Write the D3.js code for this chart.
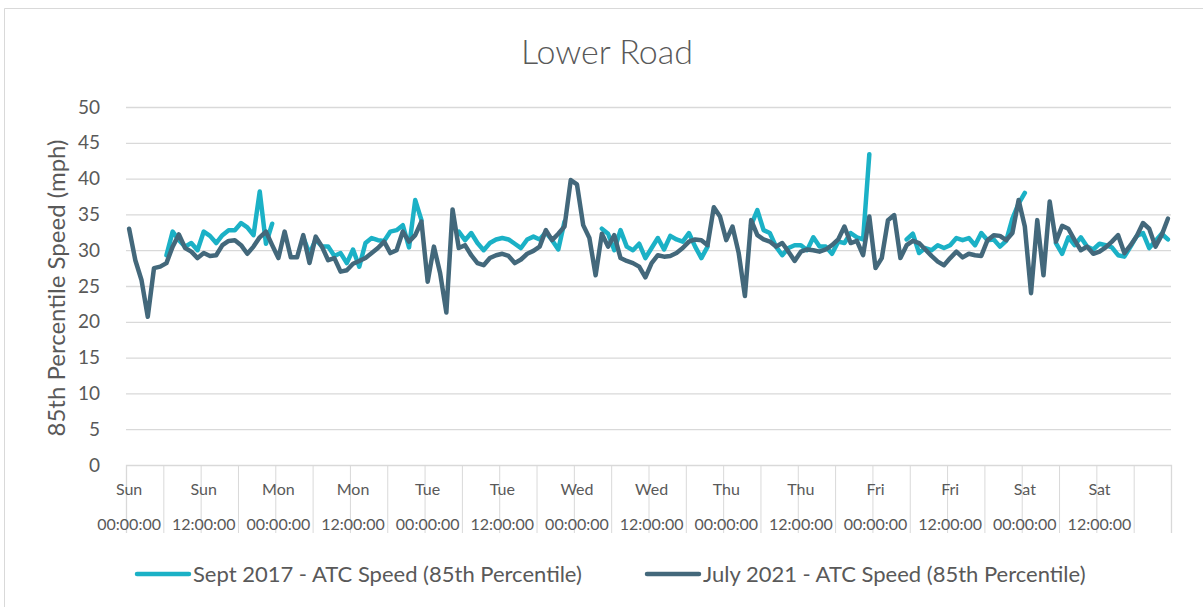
<!DOCTYPE html>
<html>
<head>
<meta charset="utf-8">
<script src="https://cdn.jsdelivr.net/npm/d3@7"></script>
<style>
  body { margin: 0; background: #fff; }
  svg text { font-family: Lato, "Open Sans", sans-serif; fill: #595959; }
</style>
</head>
<body>
<div id="chart"></div>
<script>
// hourly 85th percentile speeds, Sun 00:00 -> Sat 23:00
const july2021 = [
  33.0, 28.6, 25.8, 20.7, 27.5, 27.7, 28.2, 30.5, 32.2, 30.3, 29.8, 28.9,
  29.6, 29.2, 29.3, 30.7, 31.3, 31.4, 30.7, 29.5, 30.5, 31.8, 32.6, 30.7,
  28.9, 32.6, 29.0, 29.0, 32.1, 28.2, 31.9, 30.5, 28.6, 28.9, 27.0, 27.2,
  28.1, 28.5, 28.9, 29.6, 30.3, 31.2, 29.6, 30.0, 32.6, 31.2, 32.1, 34.0,
  25.6, 30.5, 26.8, 21.3, 35.7, 30.3, 30.7, 29.3, 28.2, 27.9, 28.9, 29.3,
  29.5, 29.2, 28.2, 28.7, 29.5, 29.9, 30.5, 32.8, 31.4, 32.3, 33.3, 39.8,
  39.2, 33.5, 31.7, 26.5, 32.3, 30.5, 32.1, 28.9, 28.5, 28.2, 27.7, 26.2,
  28.2, 29.3, 29.1, 29.2, 29.6, 30.3, 31.2, 31.5, 31.4, 30.7, 36.0, 34.7,
  31.4, 33.3, 29.6, 23.6, 34.2, 32.1, 31.5, 31.2, 30.5, 31.0, 29.8, 28.5,
  29.8, 30.1, 30.0, 29.8, 30.1, 30.7, 31.5, 33.3, 31.0, 31.3, 29.3, 34.7,
  27.5, 28.9, 34.2, 34.9, 28.9, 30.7, 31.3, 31.0, 30.1, 29.2, 28.4, 27.9,
  28.9, 29.8, 29.0, 29.5, 29.3, 29.2, 31.4, 32.1, 32.0, 31.4, 32.4, 37.0,
  33.3, 24.0, 34.2, 26.5, 36.8, 31.2, 33.4, 33.0, 31.4, 30.0, 30.5, 29.5,
  29.8, 30.4, 31.2, 32.1, 29.6, 30.7, 32.0, 33.8, 33.0, 30.5, 32.1, 34.4
];

const sept2017 = [
  null, null, null, null, null, null, 29.3, 32.6, 31.4, 30.5, 31.0, 30.0,
  32.6, 32.0, 31.0, 32.1, 32.8, 32.8, 33.8, 33.2, 32.1, 38.2, 30.9, 33.7,
  null, null, null, null, 31.8, 29.5, 31.5, 30.5, 30.5, 29.2, 29.6, 28.2,
  30.1, 27.7, 31.0, 31.7, 31.4, 31.3, 32.6, 32.8, 33.5, 30.4, 37.0, 34.2,
  null, null, null, null, null, 32.6, 31.4, 32.4, 31.0, 30.0, 31.0, 31.5,
  31.7, 31.5, 30.9, 30.3, 31.5, 31.9, 31.5, 32.5, 31.4, 30.1, 34.0, null,
  null, null, null, null, 33.0, 32.3, 30.0, 32.8, 30.5, 30.0, 30.9, 28.9,
  30.3, 31.7, 30.1, 32.0, 31.5, 31.2, 32.4, 30.5, 28.9, 30.5, null, null,
  null, null, null, null, 33.5, 35.6, 32.8, 32.4, 30.5, 29.3, 30.3, 30.7,
  30.7, 30.0, 31.8, 30.5, 30.5, 29.5, 31.2, 31.0, 32.4, 31.8, 31.5, 43.4,
  null, null, null, null, null, 31.5, 32.3, 29.6, 30.3, 30.0, 30.7, 30.3,
  30.7, 31.7, 31.4, 31.7, 30.7, 32.4, 31.4, 31.5, 30.5, 31.3, 34.4, 36.5,
  38.0, null, null, null, null, 31.0, 29.5, 31.8, 30.7, 31.8, 30.5, 30.1,
  30.9, 30.7, 30.4, 29.3, 29.1, 30.5, 32.0, 32.4, 30.3, 31.3, 32.3, 31.5
];

const tickDays = ['Sun', 'Sun', 'Mon', 'Mon', 'Tue', 'Tue', 'Wed', 'Wed',
  'Thu', 'Thu', 'Fri', 'Fri', 'Sat', 'Sat'];
const tickTimes = ['00:00:00', '12:00:00', '00:00:00', '12:00:00', '00:00:00',
  '12:00:00', '00:00:00', '12:00:00', '00:00:00', '12:00:00', '00:00:00',
  '12:00:00', '00:00:00', '12:00:00'];
const yTicks = [0, 5, 10, 15, 20, 25, 30, 35, 40, 45, 50];
const seriesNames = ['Sept 2017 - ATC Speed (85th Percentile)',
  'July 2021 - ATC Speed (85th Percentile)'];

const W = 1203;
const H = 607;
const plot = { left: 126, right: 1171, top: 107, bottom: 465 };
const colors = { sept: '#1bb1c6', july: '#43687b', grid: '#d9d9d9' };

const hours = d3.range(july2021.length);

const svg = d3.select('#chart')
  .append('svg')
  .attr('width', W)
  .attr('height', H);

// chart frame
svg.append('path')
  .attr('d', `M4.5,${H} V8.5 H${W}`)
  .attr('fill', 'none')
  .attr('stroke', colors.grid);

const x = d3.scaleBand()
  .domain(hours)
  .range([plot.left, plot.right]);
const xEdge = d3.scaleLinear()
  .domain([0, hours.length])
  .range([plot.left, plot.right]);
const y = d3.scaleLinear()
  .domain([0, 50])
  .range([plot.bottom, plot.top]);

// horizontal grid
svg.append('g')
  .selectAll('line')
  .data(yTicks.slice(1))
  .enter()
  .append('line')
  .attr('x1', plot.left)
  .attr('x2', plot.right)
  .attr('y1', d => y(d) + 0.5)
  .attr('y2', d => y(d) + 0.5)
  .attr('stroke', colors.grid)
  .attr('stroke-width', 1.3);

// y axis labels
const yAxis = svg.append('g')
  .attr('transform', `translate(${plot.left - 23},0)`)
  .call(d3.axisLeft(y).tickValues(yTicks).tickSize(0));
yAxis.select('.domain').remove();
yAxis.selectAll('text')
  .style('font-size', '19px')
  .attr('fill', '#595959');

// x axis: tick marks every 6 hours, labels every 12
const xAxis = svg.append('g')
  .attr('transform', `translate(0,${plot.bottom})`)
  .call(d3.axisBottom(xEdge)
    .tickValues(d3.range(0, hours.length + 1, 6))
    .tickSize(68)
    .tickFormat(''));
xAxis.select('.domain').attr('stroke', colors.grid).attr('stroke-width', 1.3);
xAxis.selectAll('.tick line').attr('stroke', colors.grid);

const labels = svg.append('g')
  .selectAll('text')
  .data(tickDays)
  .enter()
  .append('text')
  .attr('text-anchor', 'middle')
  .style('font-size', '16px');
labels.append('tspan')
  .attr('x', (d, i) => x(i * 12) + x.bandwidth() / 2)
  .attr('y', 495)
  .text(d => d);
labels.append('tspan')
  .attr('x', (d, i) => x(i * 12) + x.bandwidth() / 2)
  .attr('y', 530)
  .text((d, i) => tickTimes[i]);

// lines
const line = d3.line()
  .defined(d => d != null)
  .x((d, i) => x(i) + x.bandwidth() / 2)
  .y(d => y(d));

svg.append('path')
  .datum(sept2017)
  .attr('fill', 'none')
  .attr('stroke', colors.sept)
  .attr('stroke-width', 4.5)
  .attr('stroke-linejoin', 'round')
  .attr('stroke-linecap', 'round')
  .attr('d', line);

svg.append('path')
  .datum(july2021)
  .attr('fill', 'none')
  .attr('stroke', colors.july)
  .attr('stroke-width', 4.5)
  .attr('stroke-linejoin', 'round')
  .attr('stroke-linecap', 'round')
  .attr('d', line);

// title
svg.append('text')
  .attr('x', 607)
  .attr('y', 64)
  .attr('text-anchor', 'middle')
  .style('font-size', '34px')
  .style('font-weight', 300)
  .text('Lower Road');

// y title
svg.append('text')
  .attr('transform', `translate(65,${(plot.top + plot.bottom) / 2 + 2}) rotate(-90)`)
  .attr('text-anchor', 'middle')
  .style('font-size', '24px')
  .text('85th Percentile Speed (mph)');

// legend
const legend = svg.append('g')
  .selectAll('g')
  .data(seriesNames)
  .enter()
  .append('g')
  .attr('transform', (d, i) => `translate(${i === 0 ? 135 : 645},574)`);
legend.append('line')
  .attr('x1', 2)
  .attr('x2', 54)
  .attr('stroke', (d, i) => (i === 0 ? colors.sept : colors.july))
  .attr('stroke-width', 4.5)
  .attr('stroke-linecap', 'round');
legend.append('text')
  .attr('x', 58)
  .attr('dy', '0.35em')
  .style('font-size', '22px')
  .text(d => d);
</script>
</body>
</html>
